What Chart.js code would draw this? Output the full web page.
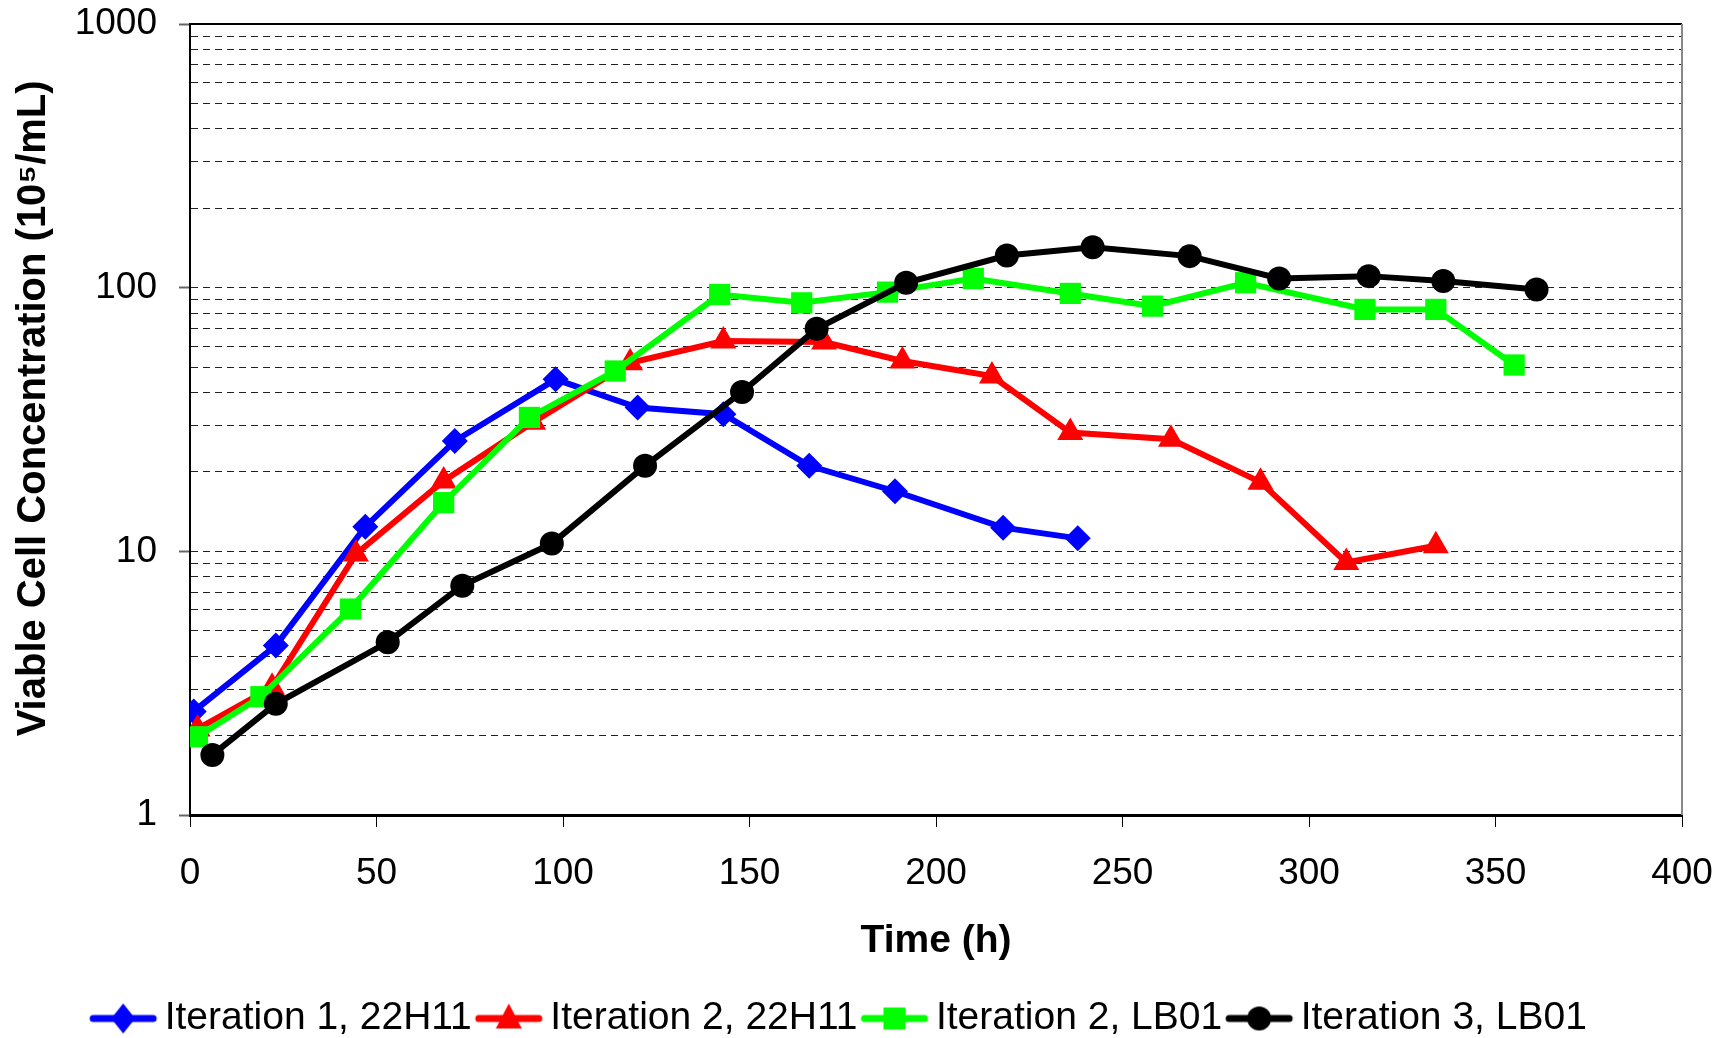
<!DOCTYPE html>
<html>
<head>
<meta charset="utf-8">
<title>Viable Cell Concentration</title>
<script src="https://cdn.jsdelivr.net/npm/chart.js@4.4.1/dist/chart.umd.min.js"></script>
<style>
  html, body { margin: 0; padding: 0; background: #fff; }
  #wrap { width: 1732px; height: 1038px; position: relative; }
</style>
</head>
<body>
<div id="wrap"><canvas id="cellChart"></canvas></div>
<script>
// Iteration 1, 22H11
const timeIt1A = [1, 23, 47, 71, 98, 120, 143, 166, 189, 218, 238];
const cellsIt1A = [2.47, 4.39, 12.4, 26.2, 44.9, 35.1, 33.1, 21.1, 16.9, 12.3, 11.2];

// Iteration 2, 22H11
const timeIt2A = [2, 22, 44.5, 68, 92, 118, 143, 170, 191, 215, 236, 263, 287, 310, 334];
const cellsIt2A = [2.12, 3.05, 9.77, 18.5, 30.9, 51.9, 62.7, 62.2, 52.7, 46.2, 28.2, 26.6, 18.3, 9.07, 10.5];

// Iteration 2, LB01
const timeIt2B = [2, 19, 43, 68, 91, 114, 142, 164, 187, 210, 236, 258, 283, 315, 334, 355];
const cellsIt2B = [1.98, 2.81, 6.04, 15.3, 32.2, 48.3, 94.2, 87.6, 96.2, 108.3, 95.1, 85.1, 104.4, 82.7, 82.7, 50.9];

// Iteration 3, LB01
const timeIt3B = [6, 23, 53, 73, 97, 122, 148, 168, 192, 219, 242, 268, 292, 316, 336, 361];
const cellsIt3B = [1.69, 2.64, 4.52, 7.41, 10.7, 21.1, 40.2, 69.8, 104.4, 132.4, 142.4, 131.7, 108.4, 110.6, 105.9, 98.4];

const seriesNames = ["Iteration 1, 22H11", "Iteration 2, 22H11", "Iteration 2, LB01", "Iteration 3, LB01"];
const xTickLabels = [0, 50, 100, 150, 200, 250, 300, 350, 400];
const yTickLabels = [1, 10, 100, 1000];
const yGridSteps = [1, 2, 3, 4, 5, 6, 7, 8, 9];

const FONT = "'Liberation Sans', Arial, sans-serif";

function toPoints(xs, ys) {
  return xs.map((x, i) => ({ x: x, y: ys[i] }));
}

// little line + marker picture for the legend, like the excel one
// (canvas is centred on the legend box, so the line is shifted right to sit next to the text)
function legendIcon(color, shape) {
  const c = document.createElement("canvas");
  c.width = 96;
  c.height = 34;
  const g = c.getContext("2d");
  g.strokeStyle = color;
  g.fillStyle = color;
  g.lineWidth = 7;
  g.lineCap = "round";
  g.beginPath();
  g.moveTo(21, 17);
  g.lineTo(81, 17);
  g.stroke();
  const cx = 51, cy = 17;
  g.beginPath();
  if (shape === "rectRot") {
    g.moveTo(cx, cy - 15); g.lineTo(cx + 12, cy); g.lineTo(cx, cy + 15); g.lineTo(cx - 12, cy);
  } else if (shape === "triangle") {
    g.moveTo(cx, cy - 15); g.lineTo(cx + 13, cy + 10); g.lineTo(cx - 13, cy + 10);
  } else if (shape === "rect") {
    g.rect(cx - 11, cy - 11, 22, 22);
  } else {
    g.arc(cx, cy, 12, 0, Math.PI * 2);
  }
  g.closePath();
  g.fill();
  return c;
}

const colors = ["#0000ff", "#ff0000", "#00ff00", "#000000"];
const shapes = ["rectRot", "triangle", "rect", "circle"];
const radii = [13, 15, 15, 12];
const icons = colors.map((c, i) => legendIcon(c, shapes[i]));

const seriesData = [
  toPoints(timeIt1A, cellsIt1A),
  toPoints(timeIt2A, cellsIt2A),
  toPoints(timeIt2B, cellsIt2B),
  toPoints(timeIt3B, cellsIt3B)
];

const datasets = seriesData.map((pts, i) => ({
  label: seriesNames[i],
  data: pts,
  borderColor: colors[i],
  backgroundColor: colors[i],
  borderWidth: 6,
  pointStyle: shapes[i],
  pointRadius: radii[i],
  pointHoverRadius: radii[i],
  pointBorderWidth: 0,
  tension: 0,
  order: 4 - i // later series on top, as in excel
}));

const plotFrame = {
  id: "plotFrame",
  beforeDatasetsDraw(chart) {
    const { ctx, chartArea: a } = chart;
    ctx.save();
    ctx.lineWidth = 2;
    ctx.strokeStyle = "#000";
    ctx.beginPath();
    ctx.moveTo(a.left, a.top);
    ctx.lineTo(a.right, a.top);
    ctx.stroke();
    ctx.strokeStyle = "#888";
    ctx.beginPath();
    ctx.moveTo(a.right, a.top);
    ctx.lineTo(a.right, a.bottom);
    ctx.stroke();
    ctx.restore();
  }
};

const config = {
  type: "line",
  data: { datasets: datasets },
  options: {
    responsive: true,
    maintainAspectRatio: false,
    animation: false,
    layout: { padding: { top: 24, right: 50, left: 0, bottom: -10 } },
    plugins: {
      tooltip: { enabled: false },
      legend: {
        position: "bottom",
        labels: {
          usePointStyle: true,
          pointStyleWidth: 50,
          padding: 9,
          color: "#000",
          font: { family: FONT, size: 39 },
          generateLabels: () => seriesNames.map((name, i) => ({
            text: name,
            pointStyle: icons[i],
            fillStyle: colors[i],
            strokeStyle: colors[i],
            lineWidth: 0,
            hidden: false,
            datasetIndex: i,
            fontColor: "#000"
          }))
        }
      }
    },
    scales: {
      x: {
        type: "linear",
        min: 0,
        max: 400,
        afterFit: (s) => {
          s.height = 175;
          s.paddingLeft = 0;
          s.paddingRight = 0;
        },
        afterBuildTicks: (s) => { s.ticks = xTickLabels.map((v) => ({ value: v })); },
        ticks: {
          color: "#000",
          padding: 25,
          font: { family: FONT, size: 37 }
        },
        grid: {
          drawOnChartArea: false,
          drawTicks: true,
          tickLength: 12,
          tickColor: "#000",
          tickWidth: 1
        },
        border: { color: "#000", width: 3 },
        title: {
          display: true,
          text: "Time (h)",
          color: "#000",
          padding: { top: 0, bottom: 25 },
          font: { family: FONT, size: 39, weight: "bold" }
        }
      },
      y: {
        type: "logarithmic",
        min: 1,
        max: 1000,
        afterFit: (s) => {
          s.width = 190;
          s.paddingTop = 0;
          s.paddingBottom = 0;
        },
        afterBuildTicks: (s) => {
          const t = [];
          for (let d = 1; d < 1000; d *= 10) {
            yGridSteps.forEach((m) => t.push({ value: d * m }));
          }
          t.push({ value: 1000 });
          s.ticks = t;
        },
        ticks: {
          autoSkip: false,
          color: "#000",
          padding: 22,
          font: { family: FONT, size: 37 },
          callback: (v) => (yTickLabels.includes(v) ? String(v) : "")
        },
        grid: {
          color: (c) => (c.tick && c.tick.value === 1000 ? "rgba(0,0,0,0)" : "#222"),
          lineWidth: 1,
          tickLength: 11,
          tickColor: (c) => (c.tick && yTickLabels.includes(c.tick.value) ? "#666" : "rgba(0,0,0,0)"),
          tickWidth: 2
        },
        border: { color: "#000", width: 2, dash: [7, 5] },
        title: {
          display: true,
          text: "  Viable Cell Concentration (10\u2075/mL)",
          color: "#000",
          padding: { top: 10, bottom: 0 },
          font: { family: FONT, size: 40, weight: "bold" }
        }
      }
    }
  },
  plugins: [plotFrame]
};

var myChart = new Chart(document.getElementById("cellChart"), config);
</script>
</body>
</html>
